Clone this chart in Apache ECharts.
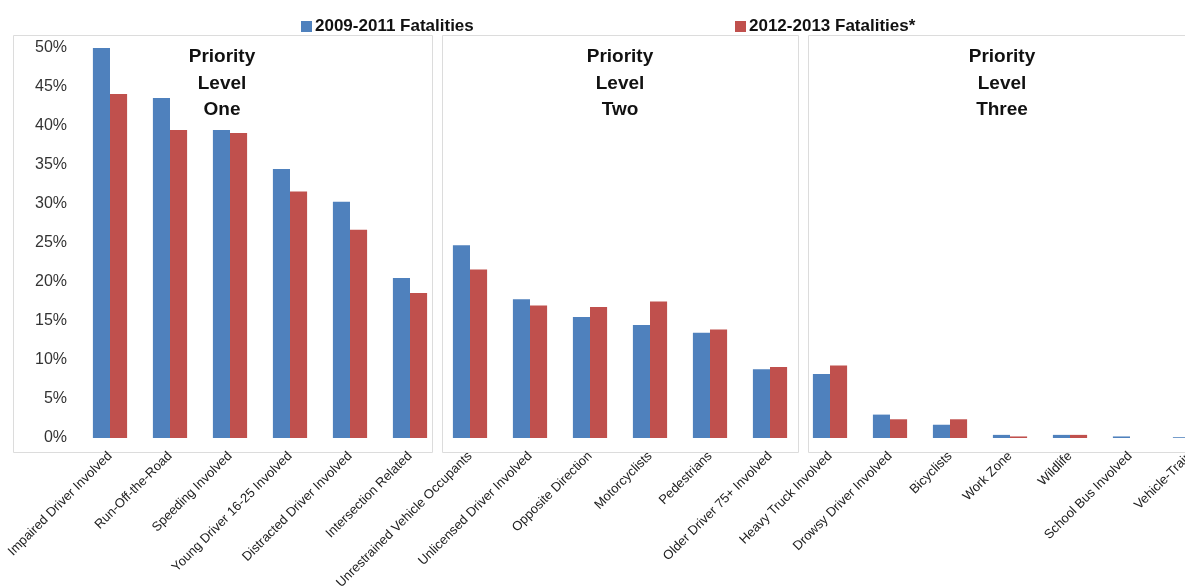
<!DOCTYPE html>
<html>
<head>
<meta charset="utf-8">
<script src="https://cdn.jsdelivr.net/npm/echarts@6/dist/echarts.min.js"></script>
<style>
  html, body { margin: 0; padding: 0; background: #ffffff; }
  #chart { width: 1185px; height: 588px; }
</style>
</head>
<body>
<div id="chart"></div>
<script>
// Crash categories, grouped into three priority levels (6 + 6 + 7)
const categories = [
  'Impaired Driver Involved', 'Run-Off-the-Road', 'Speeding Involved',
  'Young Driver 16-25 Involved', 'Distracted Driver Involved', 'Intersection Related',
  'Unrestrained Vehicle Occupants', 'Unlicensed Driver Involved', 'Opposite Direction',
  'Motorcyclists', 'Pedestrians', 'Older Driver 75+ Involved',
  'Heavy Truck Involved', 'Drowsy Driver Involved', 'Bicyclists', 'Work Zone',
  'Wildlife', 'School Bus Involved', 'Vehicle-Train'
];

// Share of fatalities (%) per category
const fatalities2009to2011 = [
  50.0, 43.6, 39.5, 34.5, 30.3, 20.5,
  24.7, 17.8, 15.5, 14.5, 13.5, 8.8,
  8.2, 3.0, 1.7, 0.4, 0.4, 0.2, 0.1
];
const fatalities2012to2013 = [
  44.1, 39.5, 39.1, 31.6, 26.7, 18.6,
  21.6, 17.0, 16.8, 17.5, 13.9, 9.1,
  9.3, 2.4, 2.4, 0.2, 0.4, 0.0, 0.0
];

const seriesNames = ['2009-2011 Fatalities', '2012-2013 Fatalities*'];
const panelTitles = ['Priority\nLevel\nOne', 'Priority\nLevel\nTwo', 'Priority\nLevel\nThree'];

const FONT = '"Liberation Sans", Arial, sans-serif';
const BLUE = '#4f81bd';
const RED = '#c0504d';

const chart = echarts.init(document.getElementById('chart'), null, { renderer: 'canvas' });

// Light frames around each priority group
const frames = [
  { x: 13, w: 419 },
  { x: 442, w: 356 },
  { x: 808, w: 400 }
].map(f => ({
  type: 'rect',
  silent: true,
  z: -1,
  shape: { x: f.x + 0.5, y: 35.5, width: f.w, height: 417 },
  style: { fill: 'none', stroke: '#dcdcdc', lineWidth: 1 }
}));

const titleCenters = [222, 620, 1002];
const titles = panelTitles.map((t, i) => ({
  type: 'text',
  silent: true,
  x: titleCenters[i],
  y: 44,
  style: {
    text: t,
    textAlign: 'center',
    fill: '#111',
    font: 'bold 19px ' + FONT,
    lineHeight: 26.5
  }
}));

const legendCommon = {
  top: 13,
  icon: 'rect',
  itemWidth: 11,
  itemHeight: 11,
  itemGap: 0,
  textStyle: { fontFamily: FONT, fontWeight: 'bold', fontSize: 17, color: '#111', padding: [0, 0, 0, -2] }
};

chart.setOption({
  animation: false,
  backgroundColor: '#ffffff',
  legend: [
    Object.assign({ left: 296, data: [seriesNames[0]] }, legendCommon),
    Object.assign({ left: 730, data: [seriesNames[1]] }, legendCommon)
  ],
  // the last group runs past the right edge of the canvas
  grid: { left: 80, top: 48, width: 1140, height: 390, outerBoundsMode: 'none', containLabel: false },
  xAxis: {
    type: 'category',
    data: categories,
    axisLine: { show: false },
    axisTick: { show: false },
    axisLabel: {
      interval: 0,
      rotate: 45,
      margin: 16,
      fontFamily: FONT,
      fontSize: 13,
      color: '#222'
    }
  },
  yAxis: {
    type: 'value',
    min: 0,
    max: 50,
    interval: 5,
    axisLine: { show: false },
    axisTick: { show: false },
    splitLine: { show: false },
    axisLabel: {
      formatter: '{value}%',
      margin: 13,
      padding: [4, 0, 0, 0],
      fontFamily: FONT,
      fontSize: 16,
      color: '#333'
    }
  },
  series: [
    {
      name: seriesNames[0],
      type: 'bar',
      data: fatalities2009to2011,
      barGap: '0%',
      barCategoryGap: '43%',
      itemStyle: { color: BLUE }
    },
    {
      name: seriesNames[1],
      type: 'bar',
      data: fatalities2012to2013,
      itemStyle: { color: RED }
    }
  ],
  graphic: frames.concat(titles)
});
</script>
</body>
</html>
